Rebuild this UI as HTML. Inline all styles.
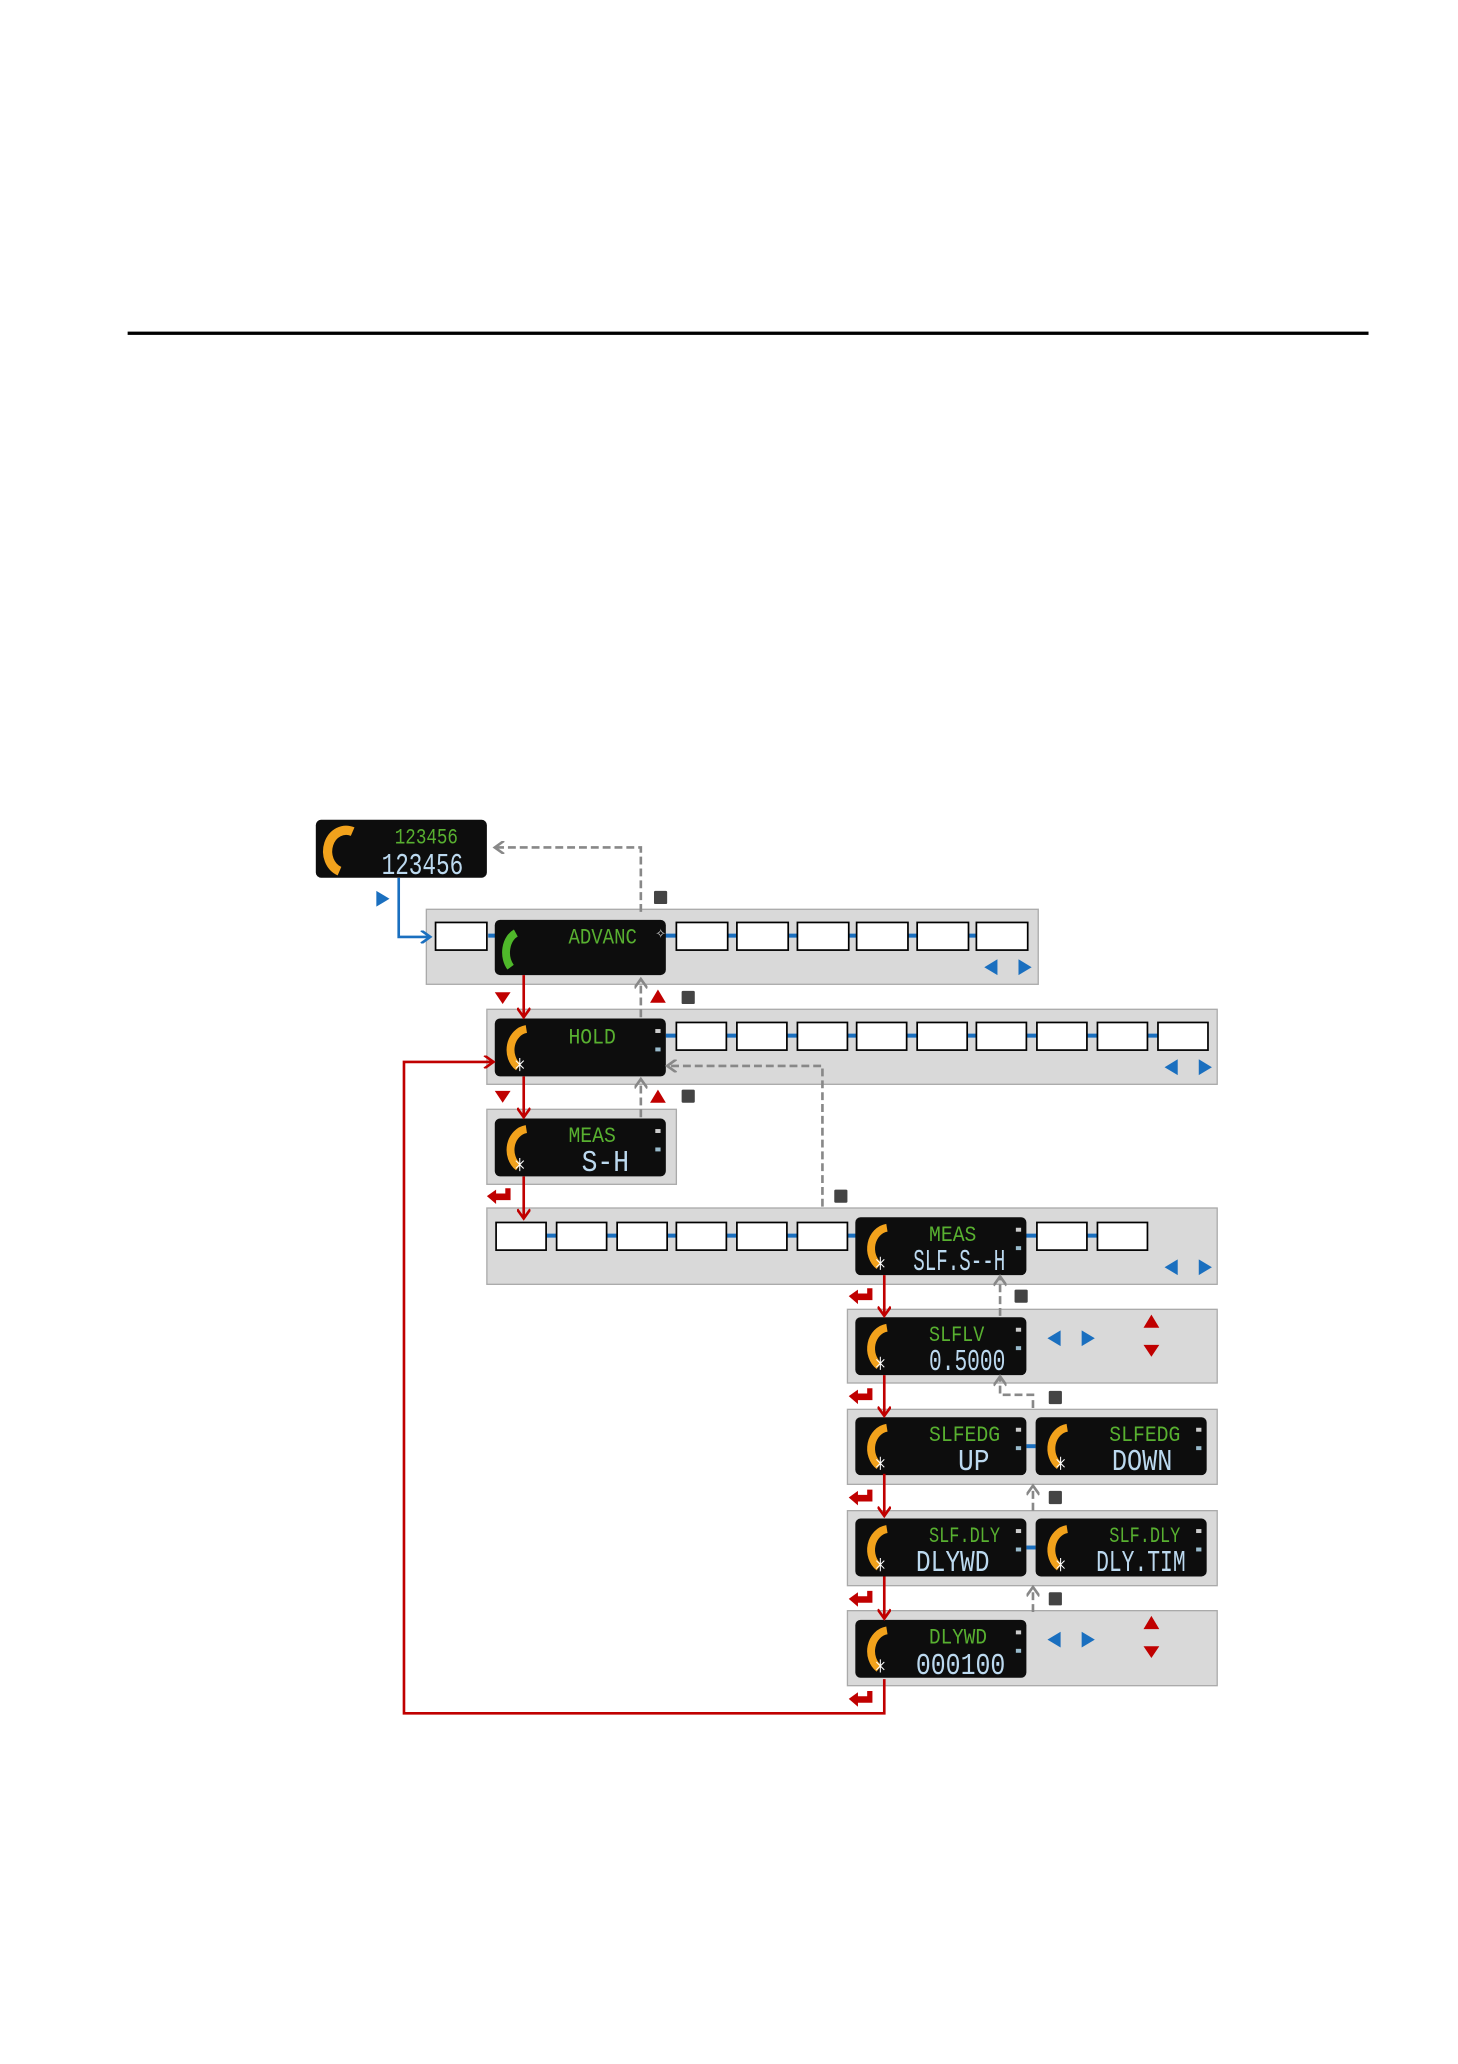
<!DOCTYPE html>
<html><head><meta charset="utf-8"><style>
html,body{margin:0;padding:0;background:#fff;width:1458px;height:2064px;overflow:hidden}
svg{display:block}
.g{font-family:"Liberation Mono","DejaVu Sans Mono",monospace;fill:#58b030;font-size:17px}
.b{font-family:"Liberation Mono","DejaVu Sans Mono",monospace;fill:#bcd9ef;font-size:23px}
</style></head><body>
<svg width="1458" height="2064" viewBox="0 0 1108 1568.5" preserveAspectRatio="none" xmlns="http://www.w3.org/2000/svg">
<defs>
<marker id="ar" markerWidth="10" markerHeight="10" refX="8" refY="5" orient="auto" markerUnits="userSpaceOnUse"><path d="M1,0 L8,5 L1,10" fill="none" stroke="#c00000" stroke-width="2"/></marker>
<marker id="ag" markerWidth="10" markerHeight="10" refX="8" refY="5" orient="auto" markerUnits="userSpaceOnUse"><path d="M1,0 L8,5 L1,10" fill="none" stroke="#888" stroke-width="2"/></marker>
<marker id="ab" markerWidth="10" markerHeight="10" refX="8" refY="5" orient="auto" markerUnits="userSpaceOnUse"><path d="M1,0 L8,5 L1,10" fill="none" stroke="#1a6fbf" stroke-width="2"/></marker>
<g id="disp">
<rect x="0" y="0" width="130" height="44" rx="4" fill="#0d0d0d"/>
<path d="M24,8 A14,16 0 0 0 18,37" fill="none" stroke="#f2a21c" stroke-width="6"/>
<path d="M16,32 l6,6 M22,32 l-6,6 M19,30 v10" stroke="#fff" stroke-width="0.8"/>
<rect x="122" y="8" width="4" height="3" fill="#ccc"/><rect x="122" y="22" width="4" height="3" fill="#9bc"/>
</g>
<g id="ret"><path d="M2,6 L9,1 L9,4 L16,4 L16,0 L20,0 L20,9 L9,9 L9,12 Z" fill="#c00000"/></g>
</defs>
<rect x="97" y="252" width="943" height="2.5" fill="#000"/>

<rect x="240" y="623" width="130" height="44" rx="4" fill="#0d0d0d"/>
<path d="M268,632 A14,16 0 0 0 258,662" fill="none" stroke="#f2a21c" stroke-width="7"/>
<text x="348" y="641" text-anchor="end" class="g" textLength="48" lengthAdjust="spacingAndGlyphs">123456</text>
<text x="352" y="664" text-anchor="end" class="b" textLength="62" lengthAdjust="spacingAndGlyphs">123456</text>

<g fill="#d9d9d9" stroke="#aaa" stroke-width="1">
<rect x="324" y="691" width="465" height="57"/>
<rect x="370" y="767" width="555" height="57"/>
<rect x="370" y="843" width="144" height="57"/>
<rect x="370" y="918" width="555" height="58"/>
<rect x="644" y="995" width="281" height="56"/>
<rect x="644" y="1071" width="281" height="57"/>
<rect x="644" y="1148" width="281" height="57"/>
<rect x="644" y="1224" width="281" height="57"/>
</g>

<g stroke="#1a6fbf" stroke-width="3">
<line x1="371" y1="711" x2="781" y2="711"/>
<line x1="506" y1="787" x2="918" y2="787"/>
<line x1="415" y1="939" x2="872" y2="939"/>
<line x1="780" y1="1099" x2="787" y2="1099"/>
<line x1="780" y1="1176" x2="787" y2="1176"/>
</g>
<g fill="#fff" stroke="#000" stroke-width="1.3">
<rect x="331" y="701" width="39" height="21"/>
<rect x="514" y="701" width="39" height="21"/><rect x="560" y="701" width="39" height="21"/><rect x="606" y="701" width="39" height="21"/><rect x="651" y="701" width="39" height="21"/><rect x="697" y="701" width="39" height="21"/><rect x="742" y="701" width="39" height="21"/>
<rect x="514" y="777" width="38" height="21"/><rect x="560" y="777" width="38" height="21"/><rect x="606" y="777" width="38" height="21"/><rect x="651" y="777" width="38" height="21"/><rect x="697" y="777" width="38" height="21"/><rect x="742" y="777" width="38" height="21"/><rect x="788" y="777" width="38" height="21"/><rect x="834" y="777" width="38" height="21"/><rect x="880" y="777" width="38" height="21"/>
<rect x="377" y="929" width="38" height="21"/><rect x="423" y="929" width="38" height="21"/><rect x="469" y="929" width="38" height="21"/><rect x="514" y="929" width="38" height="21"/><rect x="560" y="929" width="38" height="21"/><rect x="606" y="929" width="38" height="21"/><rect x="788" y="929" width="38" height="21"/><rect x="834" y="929" width="38" height="21"/>
</g>

<g transform="translate(376,699)"><rect width="130" height="42" rx="4" fill="#0d0d0d"/><path d="M16,10 A12,16 0 0 0 12,36" fill="none" stroke="#4fb82a" stroke-width="6"/><text x="108" y="18" text-anchor="end" class="g" textLength="52" lengthAdjust="spacingAndGlyphs">ADVANC</text><text x="122" y="14" fill="#ccc" font-size="10">✧</text></g>
<g transform="translate(376,774)"><use href="#disp"/><text x="92" y="19" text-anchor="end" class="g" textLength="36" lengthAdjust="spacingAndGlyphs">HOLD</text></g>
<g transform="translate(376,850)"><use href="#disp"/><text x="92" y="18" text-anchor="end" class="g" textLength="36" lengthAdjust="spacingAndGlyphs">MEAS</text><text x="102" y="40" text-anchor="end" class="b" textLength="36" lengthAdjust="spacingAndGlyphs">S-H</text></g>
<g transform="translate(650,925)"><use href="#disp"/><text x="92" y="18" text-anchor="end" class="g" textLength="36" lengthAdjust="spacingAndGlyphs">MEAS</text><text x="114" y="40" text-anchor="end" class="b" textLength="70" lengthAdjust="spacingAndGlyphs">SLF.S--H</text></g>
<g transform="translate(650,1001)"><use href="#disp"/><text x="98" y="18" text-anchor="end" class="g" textLength="42" lengthAdjust="spacingAndGlyphs">SLFLV</text><text x="114" y="40" text-anchor="end" class="b" textLength="58" lengthAdjust="spacingAndGlyphs">0.5000</text></g>
<g transform="translate(650,1077)"><use href="#disp"/><text x="110" y="18" text-anchor="end" class="g" textLength="54" lengthAdjust="spacingAndGlyphs">SLFEDG</text><text x="102" y="40" text-anchor="end" class="b" textLength="24" lengthAdjust="spacingAndGlyphs">UP</text></g>
<g transform="translate(787,1077)"><use href="#disp"/><text x="110" y="18" text-anchor="end" class="g" textLength="54" lengthAdjust="spacingAndGlyphs">SLFEDG</text><text x="104" y="40" text-anchor="end" class="b" textLength="46" lengthAdjust="spacingAndGlyphs">DOWN</text></g>
<g transform="translate(650,1154)"><use href="#disp"/><text x="110" y="18" text-anchor="end" class="g" textLength="54" lengthAdjust="spacingAndGlyphs">SLF.DLY</text><text x="102" y="40" text-anchor="end" class="b" textLength="56" lengthAdjust="spacingAndGlyphs">DLYWD</text></g>
<g transform="translate(787,1154)"><use href="#disp"/><text x="110" y="18" text-anchor="end" class="g" textLength="54" lengthAdjust="spacingAndGlyphs">SLF.DLY</text><text x="114" y="40" text-anchor="end" class="b" textLength="68" lengthAdjust="spacingAndGlyphs">DLY.TIM</text></g>
<g transform="translate(650,1231)"><use href="#disp"/><text x="100" y="18" text-anchor="end" class="g" textLength="44" lengthAdjust="spacingAndGlyphs">DLYWD</text><text x="114" y="41" text-anchor="end" class="b" textLength="68" lengthAdjust="spacingAndGlyphs">000100</text></g>

<path d="M286,677 L296,683 L286,689 Z" fill="#1a6fbf"/>
<path d="M303,667 V712 H327" fill="none" stroke="#1a6fbf" stroke-width="2" marker-end="url(#ab)"/>

<g fill="#1a6fbf">
<path d="M748,735 l10,-6 v12 Z M784,735 l-10,-6 v12 Z"/>
<path d="M885,811 l10,-6 v12 Z M921,811 l-10,-6 v12 Z"/>
<path d="M885,963 l10,-6 v12 Z M921,963 l-10,-6 v12 Z"/>
<path d="M796,1017 l10,-6 v12 Z M832,1017 l-10,-6 v12 Z"/>
<path d="M796,1246 l10,-6 v12 Z M832,1246 l-10,-6 v12 Z"/>
</g>
<g fill="#c00000">
<path d="M376,754 h12 l-6,9 Z M376,829 h12 l-6,9 Z"/>
<path d="M494,762 h12 l-6,-10 Z M494,838 h12 l-6,-10 Z"/>
<path d="M869,1009 h12 l-6,-10 Z M869,1022 h12 l-6,9 Z"/>
<path d="M869,1238 h12 l-6,-10 Z M869,1251 h12 l-6,9 Z"/>
</g>
<g fill="#444">
<rect x="497" y="677" width="10" height="10" rx="1"/>
<rect x="518" y="753" width="10" height="10" rx="1"/>
<rect x="518" y="828" width="10" height="10" rx="1"/>
<rect x="634" y="904" width="10" height="10" rx="1"/>
<rect x="771" y="980" width="10" height="10" rx="1"/>
<rect x="797" y="1057" width="10" height="10" rx="1"/>
<rect x="797" y="1133" width="10" height="10" rx="1"/>
<rect x="797" y="1210" width="10" height="10" rx="1"/>
</g>

<g fill="none" stroke="#888" stroke-width="2" stroke-dasharray="6,3" marker-end="url(#ag)">
<path d="M487,693 V644 H376"/>
<path d="M487,773 V744"/>
<path d="M487,849 V820"/>
<path d="M625,917 V810 H507"/>
<path d="M760,1000 V970"/>
<path d="M785,1070 V1060 H760 V1046"/>
<path d="M785,1148 V1129"/>
<path d="M785,1225 V1206"/>
</g>

<g fill="none" stroke="#c00000" stroke-width="2" marker-end="url(#ar)">
<path d="M398,741 V773"/>
<path d="M398,818 V849"/>
<path d="M398,894 V926"/>
<path d="M672,969 V1000"/>
<path d="M672,1045 V1076"/>
<path d="M672,1120 V1152"/>
<path d="M672,1198 V1230"/>
<path d="M672,1276 V1302 H307 V807 H375"/>
</g>
<use href="#ret" x="368" y="903"/>
<use href="#ret" x="643" y="979"/>
<use href="#ret" x="643" y="1055"/>
<use href="#ret" x="643" y="1132"/>
<use href="#ret" x="643" y="1209"/>
<use href="#ret" x="643" y="1285"/>
</svg>
</body></html>
